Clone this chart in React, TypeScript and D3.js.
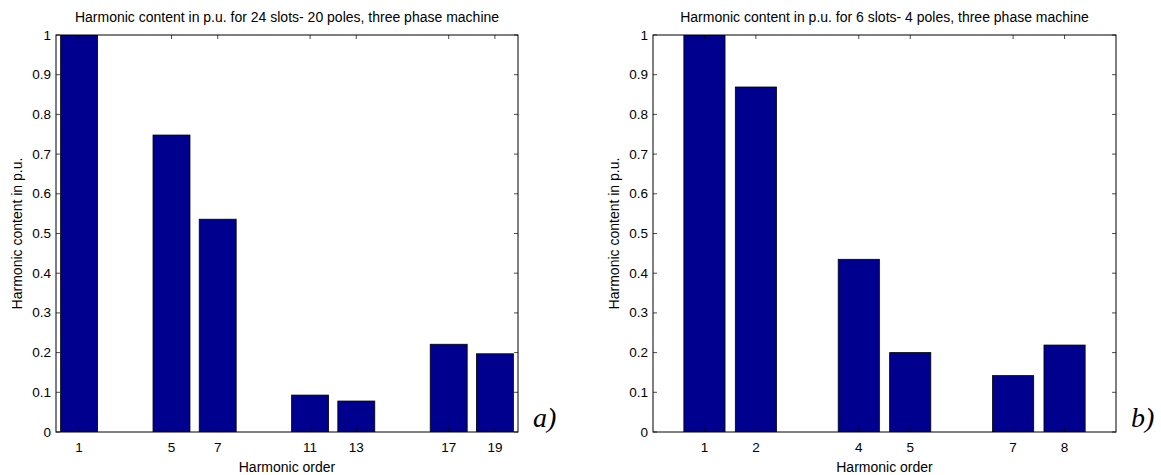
import React from "react";
import * as d3 from "d3";

const harmonicsA = [1, 5, 7, 11, 13, 17, 19];
const contentA = [1.0, 0.748, 0.536, 0.093, 0.078, 0.221, 0.197];
const harmonicsB = [1, 2, 4, 5, 7, 8];
const contentB = [1.0, 0.869, 0.435, 0.2, 0.142, 0.219];
const yTicks = [0, 0.1, 0.2, 0.3, 0.4, 0.5, 0.6, 0.7, 0.8, 0.9, 1];
const titleA = "Harmonic content in p.u. for 24 slots- 20 poles, three phase machine";
const titleB = "Harmonic content in p.u. for 6 slots- 4 poles, three phase machine";
const xLabel = "Harmonic order";
const yLabel = "Harmonic content in p.u.";

const FONT = "'Liberation Sans', Arial, Helvetica, sans-serif";
const BAR = "#00008f";
const TICK_FS = 13.5;
const LABEL_FS = 14;

type PanelProps = {
  left: number;
  right: number;
  top: number;
  bottom: number;
  xMax: number;
  cats: number[];
  vals: number[];
  barW: number;
  title: string;
  tag: string;
  id: string;
};

function Panel({ left, right, top, bottom, xMax, cats, vals, barW, title, tag, id }: PanelProps) {
  const x = d3.scaleLinear().domain([0, xMax]).range([left, right]);
  const y = d3.scaleLinear().domain([0, 1]).range([bottom, top]);
  const tl = 4;
  const cx = (left + right) / 2;
  const cy = (top + bottom) / 2;
  return (
    <g>
      <defs>
        <clipPath id={id}>
          <rect x={left} y={top} width={right - left} height={bottom - top} />
        </clipPath>
      </defs>
      <g clipPath={`url(#${id})`}>
        {cats.map((c, i) => (
          <rect
            key={c}
            x={x(c - barW / 2)}
            y={y(vals[i])}
            width={x(c + barW / 2) - x(c - barW / 2)}
            height={y(0) - y(vals[i])}
            fill={BAR}
            stroke="#000"
            strokeWidth={0.8}
          />
        ))}
      </g>
      {yTicks.map((t) => (
        <g key={"y" + t}>
          <line x1={left} x2={left + tl} y1={y(t)} y2={y(t)} stroke="#000" strokeWidth={0.7} />
          <line x1={right} x2={right - tl} y1={y(t)} y2={y(t)} stroke="#000" strokeWidth={0.7} />
          <text
            x={left - 5}
            y={y(t)}
            textAnchor="end"
            dominantBaseline="central"
            fontFamily={FONT}
            fontSize={TICK_FS}
            fill="#000"
          >
            {d3.format("~g")(t)}
          </text>
        </g>
      ))}
      {cats.map((c) => (
        <g key={"x" + c}>
          <line x1={x(c)} x2={x(c)} y1={top} y2={top + tl} stroke="#000" strokeWidth={0.7} />
          <line x1={x(c)} x2={x(c)} y1={bottom} y2={bottom - tl} stroke="#000" strokeWidth={0.7} />
          <text
            x={x(c)}
            y={bottom + 20}
            textAnchor="middle"
            fontFamily={FONT}
            fontSize={TICK_FS}
            fill="#000"
          >
            {c}
          </text>
        </g>
      ))}
      <rect
        x={left}
        y={top}
        width={right - left}
        height={bottom - top}
        fill="none"
        stroke="#000"
        strokeWidth={1}
      />
      <text x={cx} y={top - 13} textAnchor="middle" fontFamily={FONT} fontSize={LABEL_FS} fill="#000">
        {title}
      </text>
      <text x={cx} y={bottom + 40} textAnchor="middle" fontFamily={FONT} fontSize={LABEL_FS} fill="#000">
        {xLabel}
      </text>
      <text
        transform={`translate(${left - 34},${cy}) rotate(-90)`}
        textAnchor="middle"
        fontFamily={FONT}
        fontSize={LABEL_FS}
        fill="#000"
      >
        {yLabel}
      </text>
      <text
        x={right + 15}
        y={bottom - 5}
        fontFamily="'Liberation Serif', 'Times New Roman', serif"
        fontStyle="italic"
        fontSize={28}
        fill="#000"
      >
        {tag}
      </text>
    </g>
  );
}

export default function App() {
  return (
    <svg
      width={1161}
      height={475}
      style={{ position: "absolute", left: 0, top: 0, background: "#fff" }}
    >
      <rect width={1161} height={475} fill="#fff" />
      <Panel
        id="clipA"
        left={56}
        right={518}
        top={35}
        bottom={432}
        xMax={20}
        cats={harmonicsA}
        vals={contentA}
        barW={1.6}
        title={titleA}
        tag="a)"
      />
      <Panel
        id="clipB"
        left={653}
        right={1116}
        top={35}
        bottom={432}
        xMax={9}
        cats={harmonicsB}
        vals={contentB}
        barW={0.8}
        title={titleB}
        tag="b)"
      />
    </svg>
  );
}
